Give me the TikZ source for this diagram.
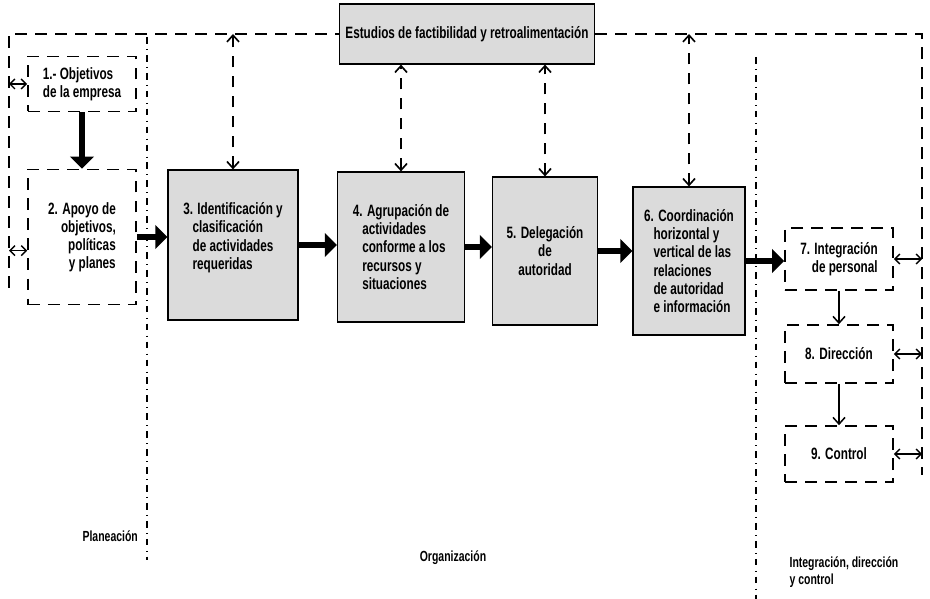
\documentclass[tikz,border=0pt]{standalone}
\usepackage{fontspec}
\setmainfont{Liberation Sans}[FakeStretch=0.715]
\usepackage{tikz}
\usetikzlibrary{shapes,arrows.meta,positioning,calc}

\newcommand{\hang}{\hspace*{8pt}}

\begin{document}
\begin{tikzpicture}[
    x=0.03cm, y=-0.03cm,
    every node/.style={font=\bfseries\fontsize{14}{15.5}\selectfont, inner sep=2pt},
    dbox/.style={draw, line width=1.4pt, dash pattern=on 3.5mm off 2.5mm, minimum width=3.24cm},
    gbox/.style={draw, line width=1pt, fill=black!14},
    bigarrow/.style={line width=5pt, -{Triangle[length=3.6mm,width=7mm]}},
    fback/.style={line width=1.4pt, dash pattern=on 3.5mm off 2.5mm},
    twoway/.style={line width=1.3pt, {Straight Barb[length=2mm,width=3.6mm]}-{Straight Barb[length=2mm,width=3.6mm]}},
    short/.style={line width=1.2pt, {Straight Barb[length=1.5mm,width=3mm]}-{Straight Barb[length=1.5mm,width=3mm]}},
    oneway/.style={line width=1.3pt, -{Straight Barb[length=2mm,width=3.6mm]}},
    sep/.style={line width=1.1pt, dash pattern=on 2mm off 1.6mm on 0.5pt off 1.6mm},
    lbl/.style={font=\bfseries\fontsize{12.5}{14}\selectfont, align=left}
]
\useasboundingbox (0,0) rectangle (930,599);

% feedback box on top
\node[gbox, minimum width=7.65cm, minimum height=1.8cm] (est) at (467,34)
    {Estudios de factibilidad y retroalimentación};

% planning
\node[dbox, minimum height=1.65cm, align=left] (obj) at (82,84)
    {1.- Objetivos\\de la empresa};
\node[dbox, minimum height=4.05cm, align=right] (apoyo) at (82,237)
    {2. Apoyo de\\objetivos,\\políticas\\y planes};

% organization steps
\node[gbox, minimum width=3.9cm, minimum height=4.5cm, align=left] (ident) at (233,245)
    {3. Identificación y\\\hang clasificación\\\hang de actividades\\\hang requeridas\\ \mbox{}};
\node[gbox, minimum width=3.81cm, minimum height=4.5cm, align=left] (agrup) at (401,247)
    {4. Agrupación de\\\hang actividades\\\hang conforme a los\\\hang recursos y\\\hang situaciones};
\node[gbox, minimum width=3.15cm, minimum height=4.44cm, align=center] (deleg) at (545,251)
    {5. Delegación\\de\\autoridad};
\node[gbox, minimum width=3.36cm, minimum height=4.44cm, align=left] (coord) at (689,261)
    {6. Coordinación\\\hang horizontal y\\\hang vertical de las\\\hang relaciones\\\hang de autoridad\\\hang e información};

% integration, direction, control
\node[dbox, minimum height=1.86cm, align=right] (integ) at (839,259)
    {7. Integración\\de personal};
\node[dbox, minimum height=1.74cm] (direc) at (839,354) {8. Dirección};
\node[dbox, minimum height=1.68cm] (contr) at (839,454) {9. Control};

% stage names
\node[lbl, anchor=west] (plan) at (80,536) {Planeación};
\node[lbl] (orga) at (453,558) {Organización};
\node[lbl, anchor=west] (idc) at (787,572) {Integración, dirección\\y control};

% feedback frame
\coordinate (lt) at (9,34);
\coordinate (lb) at (9,288);
\coordinate (rt) at (922,34);
\coordinate (rb) at (922,475);
\draw[fback] (lb) -- (lt) -- (est.west);
\draw[fback] (est.east) -- (rt) -- (rb);

% stage separators
\coordinate (s1t) at (147,37);
\coordinate (s1b) at (147,560);
\coordinate (s2t) at (756,57);
\coordinate (s2b) at (756,599);
\draw[sep] (s1t) -- (s1b);
\draw[sep] (s2t) -- (s2b);

% main flow
\draw[bigarrow] (obj.south) -- (obj.south |- apoyo.north);
\draw[bigarrow] (apoyo.east) -- (apoyo.east -| ident.west);
\draw[bigarrow] (ident.east) -- (ident.east -| agrup.west);
\draw[bigarrow] (agrup.east) -- (agrup.east -| deleg.west);
\draw[bigarrow] (deleg.east) -- (deleg.east -| coord.west);
\draw[bigarrow] (coord.east) -- (coord.east -| integ.west);
\draw[oneway] (integ.south) -- (direc.north);
\draw[oneway] (direc.south) -- (contr.north);

% feedback links
\draw[twoway, fback] (ident.north) -- (ident.north |- lt);
\draw[twoway, fback] (agrup.north) -- (agrup.north |- est.south);
\draw[twoway, fback] (deleg.north) -- (deleg.north |- est.south);
\draw[twoway, fback] (coord.north) -- (coord.north |- rt);
\coordinate (apw) at ($(apoyo.west)!0.2!(apoyo.south west)$);
\draw[short] (obj.west) -- (obj.west -| lt);
\draw[short] (apw) -- (apw -| lt);
\draw[short] (integ.east) -- (integ.east -| rt);
\draw[short] (direc.east) -- (direc.east -| rt);
\draw[short] (contr.east) -- (contr.east -| rt);
\end{tikzpicture}
\end{document}
